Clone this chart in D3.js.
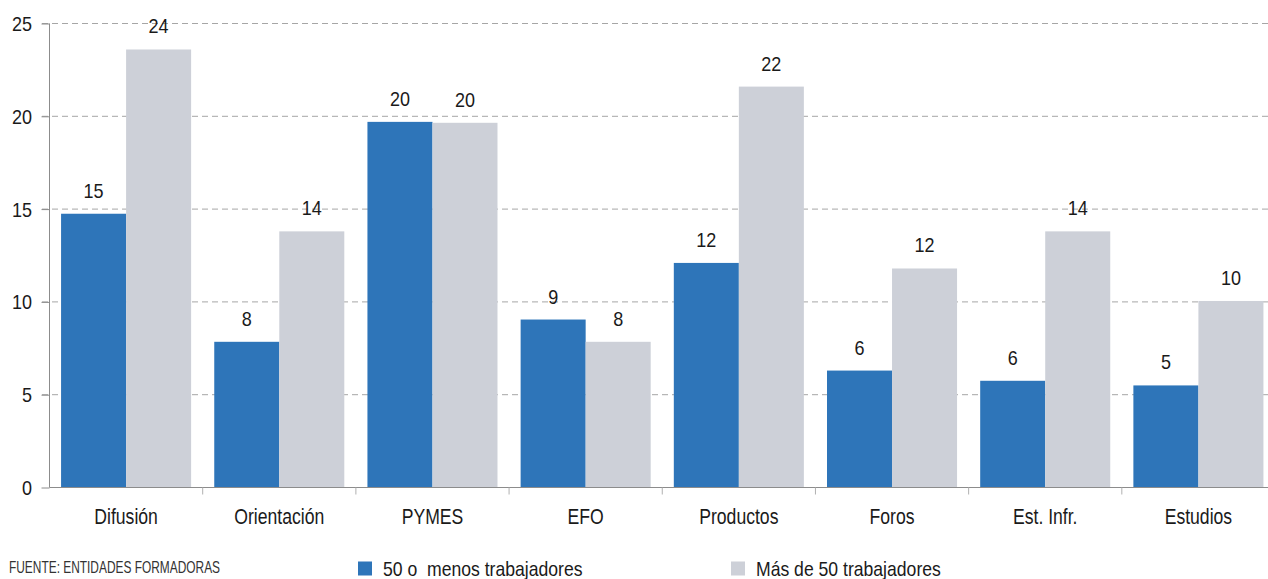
<!DOCTYPE html>
<html><head><meta charset="utf-8">
<script src="https://cdn.jsdelivr.net/npm/d3@7"></script>
<style>
body{margin:0;background:#fff;}
svg{display:block;font-family:"Liberation Sans Narrow","Liberation Sans",Arial,sans-serif;}
</style></head>
<body><svg id="c" width="1268" height="579"></svg>
<script>
const categories = ["Difusión","Orientación","PYMES","EFO","Productos","Foros","Est. Infr.","Estudios"];
const seriesNames = ["50 o  menos trabajadores","Más de 50 trabajadores"];
const small = [14.75, 7.85, 19.7, 9.05, 12.1, 6.3, 5.75, 5.5];
const large = [23.6, 13.8, 19.65, 7.85, 21.6, 11.8, 13.8, 10.05];
const labelsSmall = ["15","8","20","9","12","6","6","5"];
const labelsLarge = ["24","14","20","8","22","12","14","10"];
const yTicks = [0,5,10,15,20,25];
const colors = ["#2E75B9","#CDD0D8"];
const source = "FUENTE: ENTIDADES FORMADORAS";

const svg = d3.select("#c");
const x = d3.scaleBand().domain(categories).range([49.5,1275]).paddingInner(0.151).paddingOuter(0.0755);
const xs = d3.scaleBand().domain([0,1]).range([0,x.bandwidth()]);
const y = d3.scaleLinear().domain([0,25]).range([487.5,23.5]);

function ctext(sel, fx, fy, sx){
  return sel.attr("transform",(d,i)=>`translate(${fx(d,i)},${fy(d,i)}) scale(${sx},1)`);
}

// grid
svg.append("g").selectAll("line").data(yTicks.filter(d=>d>0)).join("line")
  .attr("x1",42).attr("x2",1268).attr("y1",d=>y(d)).attr("y2",d=>y(d))
  .attr("stroke","#a6a6a6").attr("stroke-width",1).attr("stroke-dasharray","6,4");

const series = [small, large];
const lbls = [labelsSmall, labelsLarge];
series.forEach((vals,si)=>{
  const g = svg.append("g");
  g.selectAll("rect").data(vals).join("rect")
    .attr("x",(d,i)=>x(categories[i])+xs(si))
    .attr("width",xs.bandwidth())
    .attr("y",d=>y(d)).attr("height",d=>y(0)-y(d))
    .attr("fill",colors[si]);
  ctext(g.selectAll("text").data(vals).join("text"),
      (d,i)=>x(categories[i])+xs(si)+xs.bandwidth()/2, d=>y(d)-16, 0.9)
    .attr("text-anchor","middle").attr("font-size",20).attr("fill","#1a1a1a")
    .text((d,i)=>lbls[si][i]);
});

// y axis
const ya = svg.append("g").attr("transform","translate(49.5,0)")
  .call(d3.axisLeft(y).tickValues(yTicks).tickSize(8).tickPadding(10));
ya.select(".domain").attr("stroke","#8c8c8c").attr("d","M0,"+y(25)+"V"+y(0));
ya.selectAll(".tick line").attr("stroke","#8c8c8c");
ya.selectAll(".tick text").attr("font-size",20).attr("fill","#1a1a1a").attr("font-family",null)
  .attr("x",null).attr("dy",null)
  .attr("transform",`translate(-17.5,7) scale(0.9,1)`);

// x axis
svg.append("line").attr("x1",49.5).attr("x2",1268).attr("y1",y(0)).attr("y2",y(0)).attr("stroke","#8c8c8c");
const bounds = categories.slice(1).map(c=>x(c)-x.step()*x.paddingInner()/2);
svg.append("g").selectAll("line").data(bounds).join("line")
  .attr("x1",d=>d).attr("x2",d=>d).attr("y1",y(0)).attr("y2",y(0)+7).attr("stroke","#b0b0b0");
ctext(svg.append("g").selectAll("text").data(categories).join("text"),
    d=>x(d)+x.bandwidth()/2, ()=>523.5, 0.8)
  .attr("text-anchor","middle").attr("font-size",22).attr("fill","#1a1a1a").text(d=>d);

// source
svg.append("text").attr("transform",`translate(9,573) scale(0.745,1)`).attr("font-size",16).attr("fill","#333").text(source);

// legend
const legX = [358,731];
seriesNames.forEach((n,i)=>{
  svg.append("rect").attr("x",legX[i]).attr("y",561.5).attr("width",14).attr("height",14).attr("fill",colors[i]);
  svg.append("text").attr("transform",`translate(${legX[i]+25},576) scale(0.88,1)`).attr("font-size",20).attr("fill","#1a1a1a")
    .attr("xml:space","preserve").style("white-space","pre").text(n);
});
</script></body></html>
